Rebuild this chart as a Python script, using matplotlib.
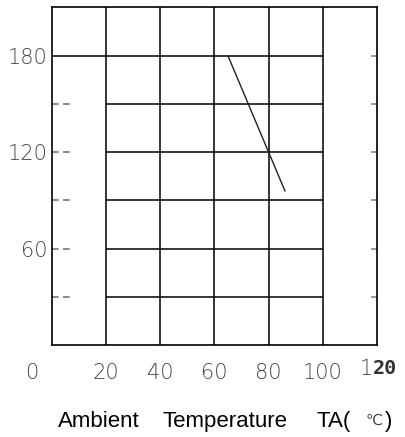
import matplotlib
matplotlib.use('Agg')
import matplotlib.pyplot as plt
import matplotlib.transforms as mtransforms

# data
line_x = [65, 86]
line_y = [180, 96]
v_grid = [20, 40, 60, 80, 100]
h_grid = [30, 60, 90, 120, 150]
top_grid = 180
x_ticks = [0, 20, 40, 60, 80, 100]
y_ticks = [60, 120, 180]
y_minor = [30, 60, 90, 120, 150]
right_ticks = [30, 60, 90, 120, 150, 180]
xlabel_parts = ['Ambient', 'Temperature', 'TA(', '\u2103', ')']
xlabel_left = [58, 163, 317, 366, 385]   # pixel left edge of each word

tick_font = dict(family='DejaVu Sans', fontweight=200, fontsize=15, color='#444444')

fig = plt.figure(figsize=(4.06, 4.37), dpi=100)
ax = fig.add_axes([52 / 406, 1 - 345 / 437, 325 / 406, 338 / 437])
ax.set_xlim(0, 120)
ax.set_ylim(0, 210.5)

for s in ax.spines.values():
    s.set_linewidth(1.2)
    s.set_color('black')

# grid
ax.vlines(v_grid, 0, 210.5, color='black', lw=1.1)
ax.hlines(h_grid, 20, 100, color='black', lw=1.1)
ax.hlines(top_grid, 0, 100, color='black', lw=1.1)

# left dashed ticks and right ticks
ax.hlines(y_minor, 0, 7.7, color='#777777', lw=1.2, linestyles=(0, (4, 2.6)))
ax.hlines(right_ticks, 117.8, 120, color='#888888', lw=1.2)

# curve
ax.plot(line_x, line_y, color='#222222', lw=1.0)

ax.tick_params(length=0)
ax.set_xticks(x_ticks)
ax.set_xticklabels([str(v) for v in x_ticks], **tick_font)
ax.set_yticks(y_ticks)
ax.set_yticklabels([str(v) for v in y_ticks], **tick_font)
ax.tick_params(axis='x', pad=13)
ax.tick_params(axis='y', pad=3)

# the "0" sits left of the axis
lab0 = ax.get_xticklabels()[0]
lab0.set_transform(lab0.get_transform() + mtransforms.ScaledTranslation(-20 / 100, 0, fig.dpi_scale_trans))

# "120" with a bold "20"
shift = mtransforms.ScaledTranslation(-4 / 100, -24 / 100, fig.dpi_scale_trans)
ax.text(120, 0, '1', transform=ax.get_xaxis_transform() + shift, ha='right', va='center', **tick_font)
ax.text(120, 0, '20', transform=ax.get_xaxis_transform() + shift, ha='left', va='center',
        family='DejaVu Sans Mono', fontsize=14.5, fontweight='bold', color='#333333')

# x label, word by word
for word, px in zip(xlabel_parts, xlabel_left):
    if word == '\u2103':
        fig.text(px / 406, 1 - 425 / 437, word, ha='left', va='baseline',
                 family=['Liberation Sans', 'DejaVu Sans'], fontsize=11, color='#444444')
    else:
        fig.text(px / 406, 1 - 427 / 437, word, ha='left', va='baseline',
                 family=['Liberation Sans', 'DejaVu Sans'], fontsize=16, color='black')

fig.savefig('out.png', dpi=100)
